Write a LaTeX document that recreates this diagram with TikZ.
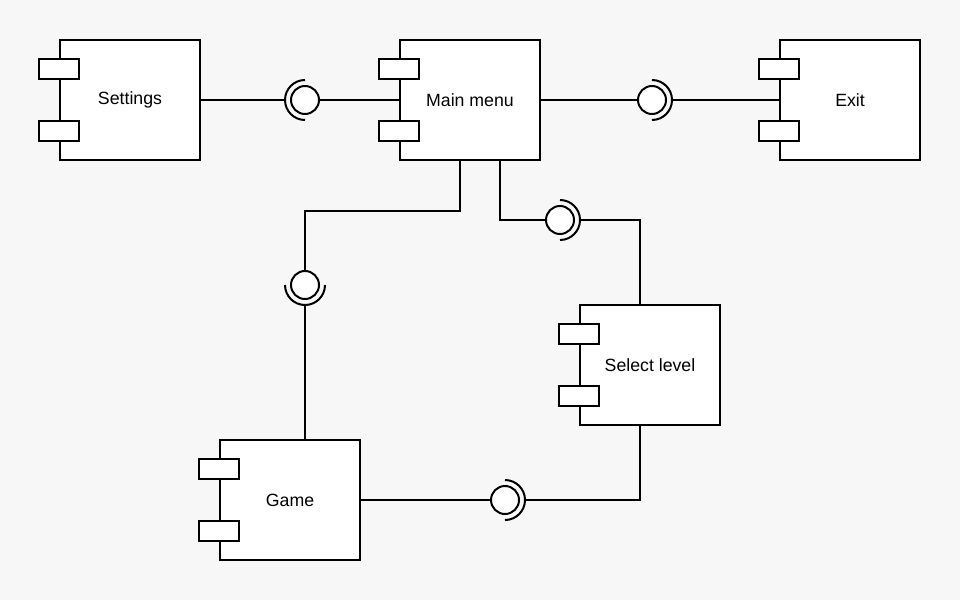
\documentclass[tikz,border=0pt]{standalone}
\usepackage{fontspec}
\setmainfont{Liberation Sans}
\definecolor{bgcol}{HTML}{F7F7F7}
\tikzset{
  comp/.style={draw, fill=white, line width=0.05cm, minimum width=3.5cm, minimum height=3cm, inner sep=0pt},
  port/.style={draw, fill=white, line width=0.05cm, minimum width=1cm, minimum height=0.5cm, inner sep=0pt},
  ball/.style={circle, draw, fill=white, line width=0.05cm, minimum size=0.7cm, inner sep=0pt, outer sep=0pt},
  sock/.style={circle, minimum size=1cm, inner sep=0pt, outer sep=0pt},
  wire/.style={line width=0.05cm}
}
\begin{document}
\begin{tikzpicture}
                        % background and bounding box
                        \fill [bgcol] (0.000000,0.000000) rectangle (24.000000,15.000000);
                        \useasboundingbox (0.000000,0.000000) rectangle (24.000000,15.000000);
                        {\fontsize{12.6}{15}\selectfont

                        % Drawing components
                        \node [comp] (settings) at (3.250000,12.500000) {Settings};
                        \node [comp] (main) at (11.750000,12.500000) {Main menu};
                        \node [comp] (exit) at (21.250000,12.500000) {Exit};
                        \node [comp] (select) at (16.250000,5.875000) {Select level};
                        \node [comp] (game) at (7.250000,2.500000) {Game};

                        % Drawing ports
                        \foreach \c in {settings,main,exit,select,game} {
                          \node [port] (\c-p1) at ([yshift=-0.75cm]\c.north west) {};
                          \node [port] (\c-p2) at ([yshift=0.75cm]\c.south west) {};
                        }

                        % Drawing interfaces
                        \node [ball] (b1) at (7.625000,12.500000) {};
                        \node [sock] (s1) at (7.625000,12.500000) {};
                        \node [ball] (b2) at (16.300000,12.500000) {};
                        \node [sock] (s2) at (16.300000,12.500000) {};
                        \node [ball] (b3) at (14.000000,9.500000) {};
                        \node [sock] (s3) at (14.000000,9.500000) {};
                        \node [ball] (b4) at (7.625000,7.875000) {};
                        \node [sock] (s4) at (7.625000,7.875000) {};
                        \node [ball] (b5) at (12.625000,2.500000) {};
                        \node [sock] (s5) at (12.625000,2.500000) {};

                        % Drawing sockets
                        \draw [wire] (s1.north) arc (90:270:0.5);%
                        \draw [wire] (s2.north) arc (90:-90:0.5);%
                        \draw [wire] (s3.north) arc (90:-90:0.5);%
                        \draw [wire] (s4.west) arc (180:360:0.5);%
                        \draw [wire] (s5.north) arc (90:-90:0.5);%

                        % Drawing connectors
                        \draw [wire] (settings.east) -- (s1.west);%
                        \draw [wire] (b1.east) -- (main.west);%
                        \draw [wire] (main.east) -- (b2.west);%
                        \draw [wire] (s2.east) -- (exit.west);%
                        \draw [wire] ([xshift=0.75cm]main.south) |- (b3.west);%
                        \draw [wire] (s3.east) -| ([xshift=-0.25cm]select.north);%
                        \draw [wire] ([xshift=-0.25cm]main.south) -- ++(0,-1.25) -| (b4.north);%
                        \draw [wire] (s4.south) -- (s4.south |- game.north);%
                        \draw [wire] (game.east) -- (b5.west);%
                        \draw [wire] (s5.east) -| ([xshift=-0.25cm]select.south);%
                        }
                    \end{tikzpicture}
\end{document}
